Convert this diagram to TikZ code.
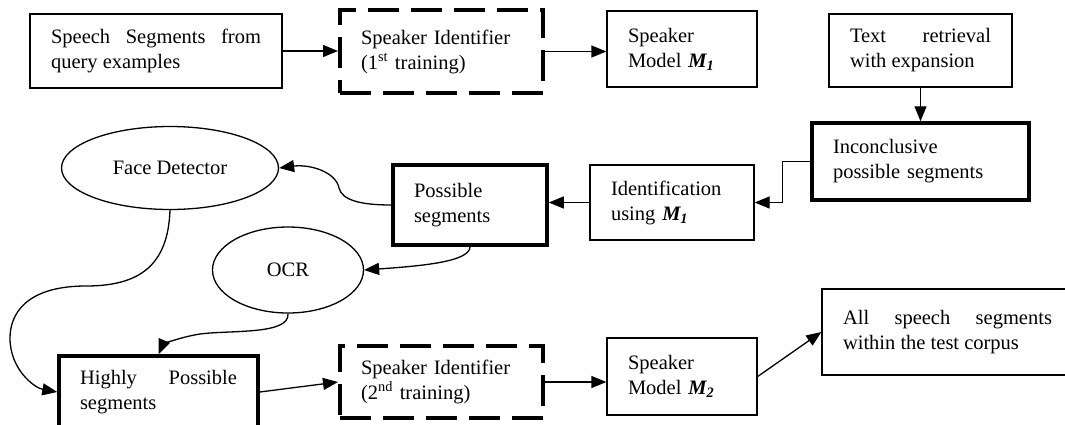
\documentclass[tikz,border=0pt]{standalone}
\usepackage{fontspec}
\setmainfont{Liberation Serif}
\usetikzlibrary{arrows.meta,shapes.geometric}
\setlength{\parindent}{0pt}
\begin{document}
\begin{tikzpicture}[x=1pt,y=-1pt,
  every node/.style={font=\fontsize{20.5}{25}\selectfont},
  box/.style={draw, line width=1.3pt, rectangle, inner xsep=21pt, inner ysep=0pt},
  thickbox/.style={box, line width=3.5pt},
  dashbox/.style={box, line width=4pt, dash pattern=on 31pt off 12pt},
  oval/.style={draw, ellipse, line width=1.3pt, inner sep=0pt},
  conn/.style={line width=1.3pt, -{Triangle[length=15pt,width=12pt]}}
  ]
\useasboundingbox (0,0) rectangle (1065,424);
\clip (0,0) rectangle (1065,424);
\fill[white] (0,0) rectangle (1065,424);

\node[box, text width=210pt, align=justify, minimum height=74pt] (A) at (156,51) {Speech Segments from\linebreak query examples};
\node[dashbox, text width=161pt, align=left, minimum height=83pt] (B) at (441.5,51.5) {Speaker Identifier\\(1\textsuperscript{st} training)};
\node[box, text width=108pt, align=left, minimum height=76pt] (C) at (682,49) {Speaker\\Model \textbf{\textit{M\textsubscript{1}}}};
\node[box, text width=141pt, align=justify, minimum height=73pt] (D) at (920.5,50.5) {Text retrieval\linebreak with expansion};
\node[thickbox, text width=175pt, align=left, minimum height=77pt] (E) at (920.5,161.5) {Inconclusive\\possible segments};
\node[box, text width=122pt, align=left, minimum height=75pt] (F) at (672,202.5) {Identification\\using \textbf{\textit{M\textsubscript{1}}}};
\node[thickbox, text width=112pt, align=left, minimum height=80pt] (G) at (470,205) {Possible\\segments};
\node[oval, minimum width=217pt, minimum height=83pt] (Face) at (170,168) {Face Detector};
\node[oval, minimum width=151pt, minimum height=86pt] (OCR) at (288,270) {OCR};
\node[thickbox, text width=157pt, align=justify, minimum height=72pt] (H) at (158.5,392) {Highly Possible\linebreak segments};
\node[dashbox, text width=161pt, align=left, minimum height=72pt] (I) at (441.5,382) {Speaker Identifier\\(2\textsuperscript{nd} training)};
\node[box, text width=108pt, align=left, minimum height=77pt] (J) at (682,376.5) {Speaker\\Model \textbf{\textit{M\textsubscript{2}}}};
\node[box, text width=209pt, align=justify, minimum height=86pt] (K) at (947.5,332) {All speech segments\linebreak within the test corpus\par\vspace{11pt}};

\draw[conn] (A.east) -- (A.east -| B.west);
\draw[conn] (B.east) -- (B.east -| C.west);
\draw[conn] (D.south) -- (D.south |- E.north);
\draw[conn] (E.west) -- ++(-28,0) |- (F.east);
\draw[conn] (F.west) -- (F.west -| G.east);
\draw[conn] (G.west) .. controls (360,205) and (342,200) .. (339,188) .. controls (336,172) and (310,164) .. (Face.east);
\draw[conn] (G.south) .. controls (470,262) and (420,266) .. (OCR.east);
\draw[conn] (Face.south) .. controls (168,265) and (140,286) .. (86,286) .. controls (25,286) and (10,315) .. (10,338) .. controls (10,370) and (35,388) .. (H.west);
\draw[conn] (OCR.south) .. controls (290,335) and (230,330) .. (200,334) .. controls (175,338) and (162,346) .. (H.north);
\draw[conn] (H.east) -- (I.west);
\draw[conn] (I.east) -- (I.east -| J.west);
\draw[conn] (J.east) -- (K.west);
\end{tikzpicture}
\end{document}
